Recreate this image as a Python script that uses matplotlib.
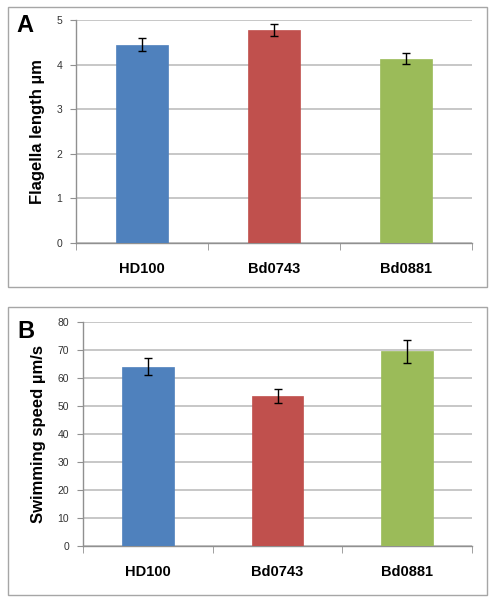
import matplotlib
matplotlib.use("Agg")
import matplotlib.pyplot as plt
from matplotlib.patches import Rectangle

strains = ["HD100", "Bd0743", "Bd0881"]
colors = ["#4F81BD", "#C0504D", "#9BBB59"]

length_mean = [4.45, 4.78, 4.13]
length_err = [0.14, 0.13, 0.12]

speed_mean = [64.1, 53.5, 69.5]
speed_err = [3.0, 2.5, 4.0]

plt.rcParams['font.family'] = ['Liberation Sans', 'DejaVu Sans']

W, H = 490, 598
fig = plt.figure(figsize=(W / 100, H / 100), dpi=100)


def px_axes(x0, y0, x1, y1):
    # pixel box (top-left origin) -> figure fraction
    return [x0 / W, 1 - y1 / H, (x1 - x0) / W, (y1 - y0) / H]


def panel(box, rect, means, errs, ymax, ystep, ylabel, letter, letter_xy):
    l, b, w, h = px_axes(*box)
    fig.patches.append(Rectangle((l, b), w, h, transform=fig.transFigure,
                                 fill=False, edgecolor="#A6A6A6", linewidth=1.0))
    ax = fig.add_axes(px_axes(*rect))
    x = range(len(strains))
    ax.bar(x, means, width=0.4, color=colors, edgecolor=colors, linewidth=0.5, zorder=3)
    ax.errorbar(x, means, yerr=errs, fmt="none", ecolor="black",
                elinewidth=1.0, capsize=3, capthick=1.0, zorder=4)
    ax.set_xlim(-0.5, 2.5)
    ax.set_ylim(0, ymax)
    ax.set_yticks(range(0, ymax + 1, ystep))
    ax.grid(axis="y", color="#BEBEBE", linewidth=1.2, zorder=0)
    ax.set_axisbelow(True)
    for s in ["top", "right"]:
        ax.spines[s].set_visible(False)
    for s in ["left", "bottom"]:
        ax.spines[s].set_color("#909090")
        ax.spines[s].set_linewidth(1.0)
    ax.set_xticks(list(x))
    ax.set_xticklabels(strains, fontsize=10.5, fontweight="bold")
    ax.set_xticks([-0.5, 0.5, 1.5, 2.5], minor=True)
    ax.tick_params(axis="x", which="major", length=0, pad=14)
    ax.tick_params(axis="x", which="minor", length=5, color="#909090")
    ax.tick_params(axis="y", length=4, color="#909090", labelsize=7.5,
                   labelcolor="#333333", pad=6)
    ax.set_ylabel(ylabel, fontsize=12, fontweight="bold", labelpad=8)
    fig.text(letter_xy[0] / W, 1 - letter_xy[1] / H, letter, fontsize=17,
             fontweight="bold", ha="left", va="center")
    return ax


panel((8, 7, 487, 287), (76, 20, 472, 243), length_mean, length_err, 5, 1,
      "Flagella length µm", "A", (16, 26))
panel((8, 307, 487, 595), (83, 322, 472, 546), speed_mean, speed_err, 80, 10,
      "Swimming speed µm/s", "B", (17, 331))

fig.savefig("out.png", dpi=100, facecolor="white")
